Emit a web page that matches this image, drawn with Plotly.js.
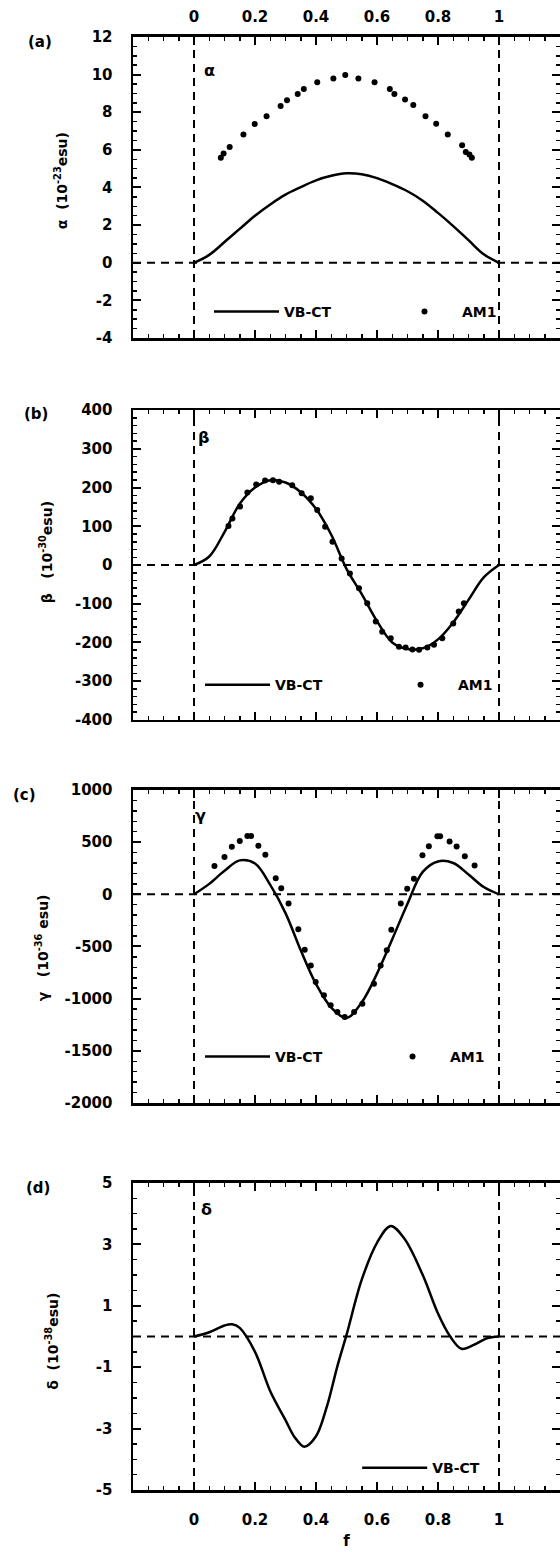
<!DOCTYPE html>
<html><head><meta charset="utf-8">
<script src="https://cdn.plot.ly/plotly-3.0.1.min.js"></script>
<style>body{margin:0;background:#fff}</style>
</head><body><div id="chart" style="width:560px;height:1552px"></div>
<script>
// ---- data ----
const fGrid = [0,0.05,0.1,0.15,0.2,0.25,0.3,0.35,0.4,0.45,0.5,0.55,0.6,0.65,0.7,0.75,0.8,0.85,0.9,0.95,1];
const alphaVB = [0,0.42,1.1,1.8,2.5,3.1,3.62,4.02,4.38,4.62,4.75,4.7,4.5,4.18,3.8,3.3,2.65,1.95,1.2,0.45,0];
const alphaAM1F = [0.088,0.097,0.117,0.162,0.199,0.238,0.284,0.305,0.340,0.360,0.404,0.457,0.496,0.539,0.592,0.642,0.657,0.692,0.719,0.759,0.794,0.832,0.879,0.891,0.903,0.911];
const alphaAM1 = [5.58,5.8,6.15,6.82,7.37,7.78,8.33,8.64,8.97,9.24,9.59,9.79,9.98,9.79,9.59,9.24,8.97,8.68,8.38,7.78,7.39,6.82,6.24,5.88,5.75,5.58];

const betaVB = [0,22,85,158,200,219,213,188,145,78,-10,-75,-145,-200,-217,-215,-192,-148,-90,-32,0];
const betaAM1F = [0.113,0.126,0.151,0.175,0.204,0.233,0.259,0.279,0.322,0.353,0.383,0.404,0.430,0.454,0.484,0.511,0.541,0.568,0.596,0.617,0.645,0.672,0.694,0.716,0.738,0.765,0.787,0.814,0.850,0.868,0.885];
const betaAM1 = [101,120,151,187,208,218,219,215,206,185,172,142,99,60,17,-22,-60,-99,-146,-172,-189,-211,-213,-218,-219,-213,-206,-189,-151,-120,-99];

const gammaVB = [0,100,225,325,295,90,-180,-537,-860,-1085,-1185,-1035,-760,-430,-90,215,315,300,190,70,0];
const gammaAM1F = [0.067,0.100,0.124,0.150,0.175,0.187,0.211,0.234,0.268,0.286,0.310,0.342,0.363,0.383,0.399,0.426,0.448,0.470,0.494,0.525,0.552,0.590,0.612,0.632,0.647,0.678,0.699,0.721,0.749,0.770,0.798,0.807,0.838,0.861,0.888,0.920];
const gammaAM1 = [272,358,455,510,560,560,466,378,155,58,-88,-335,-531,-681,-840,-968,-1064,-1128,-1176,-1128,-1048,-856,-681,-537,-339,-89,54,150,374,460,556,556,506,458,366,277];

const deltaF = [0,0.05,0.1,0.125,0.15,0.2,0.25,0.3,0.33,0.362,0.4,0.435,0.47,0.5,0.55,0.6,0.645,0.69,0.75,0.8,0.84,0.877,0.92,0.96,1];
const deltaVB = [0,0.14,0.36,0.4,0.28,-0.5,-1.78,-2.72,-3.28,-3.59,-3.25,-2.3,-0.97,0.05,1.85,3.05,3.6,3.18,2.0,0.75,0.0,-0.4,-0.26,-0.06,0];

const xTickVals = [0,0.2,0.4,0.6,0.8,1];
const xTickText = ['0','0.2','0.4','0.6','0.8','1'];
const yTickVals = [[-4,-2,0,2,4,6,8,10,12],[-400,-300,-200,-100,0,100,200,300,400],[-2000,-1500,-1000,-500,0,500,1000],[-5,-3,-1,1,3,5]];
const yTickText = [['-4','-2','0','2','4','6','8','10','12'],['-400','-300','-200','-100','0','100','200','300','400'],['-2000','-1500','-1000','-500','0','500','1000'],['-5','-3','-1','1','3','5']];
const refF = [0,1];
const panelLabels = ['(a)','(b)','(c)','(d)'];
const greek = ['α','β','γ','δ'];
const yTitles = ['α  (10<sup>-23</sup>esu)','β   (10<sup>-30</sup>esu)','γ   (10<sup>-36</sup> esu)','δ  (10<sup>-38</sup>esu)'];
const yRanges = [[-4,12],[-400,400],[-2000,1000],[-5,5]];
const yMinor = [0.5,20,100,0.5];
const names = ['VB-CT','AM1'];

// ---- layout helpers ----
const FONT = 'DejaVu Sans, Liberation Sans, sans-serif';
const F = (size)=>({family:FONT, size:size, color:'#000', weight:'bold'});
const domains = [[0.7822,0.9762],[0.5361,0.7358],[0.2893,0.4910],[0.0399,0.2378]];
const lineCol = '#000';

function xax(k){
  const a = {
    anchor: 'y'+(k===1?'':k), domain:[0,1], range:[-0.2,1.2],
    showgrid:false, zeroline:false, showline:true, linewidth:2.5, linecolor:lineCol, mirror:'ticks',
    ticks:'inside', ticklen:8, tickwidth:2, tickcolor:lineCol,
    tickmode:'array', tickvals:xTickVals, ticktext:xTickText, showticklabels:false,
    tickfont:F(15),
    minor:{tickmode:'linear', tick0:0, dtick:0.05, ticks:'inside', ticklen:4, tickwidth:1.5, tickcolor:lineCol}
  };
  if(k===1){ a.side='top'; a.showticklabels=true; a.ticklabelstandoff=6; }
  if(k===4){ a.showticklabels=true; a.ticklabelstandoff=14;
    a.title={text:'f', font:F(15), standoff:8}; }
  return a;
}
function yax(k){
  const i=k-1;
  return {
    anchor: 'x'+(k===1?'':k), domain:domains[i], range:yRanges[i],
    showgrid:false, zeroline:false, showline:true, linewidth:2.5, linecolor:lineCol, mirror:'ticks',
    ticks:'inside', ticklen:8, tickwidth:2, tickcolor:lineCol,
    tickmode:'array', tickvals:yTickVals[i], ticktext:yTickText[i],
    tickfont:F(15), ticklabelstandoff:15,
    minor:{tickmode:'linear', tick0:yRanges[i][0], dtick:yMinor[i], ticks:'inside', ticklen:4, tickwidth:1.5, tickcolor:lineCol}
  };
}

const lineStyle = {color:'#000', width:2.5, shape:'spline', smoothing:1};
const dotStyle = {color:'#000', size:6, symbol:'circle'};
const vb = [alphaVB, betaVB, gammaVB];
const amF = [alphaAM1F, betaAM1F, gammaAM1F];
const am = [alphaAM1, betaAM1, gammaAM1];
const traces = [];
for(let i=0;i<3;i++){
  const s = i===0?'':String(i+1);
  traces.push({x:fGrid, y:vb[i], xaxis:'x'+s, yaxis:'y'+s, mode:'lines', line:lineStyle, name:names[0], legend:'legend'+s});
  traces.push({x:amF[i], y:am[i], xaxis:'x'+s, yaxis:'y'+s, mode:'markers', marker:dotStyle, name:names[1], legend:'legend'+s});
}
traces.push({x:deltaF, y:deltaVB, xaxis:'x4', yaxis:'y4', mode:'lines', line:lineStyle, name:names[0], legend:'legend4'});

const shapes = [];
for(let k=1;k<=4;k++){
  const s = k===1?'':String(k);
  refF.forEach(v=>shapes.push({type:'line', xref:'x'+s, yref:'y'+s+' domain', x0:v, x1:v, y0:0, y1:1, line:{color:'#000', width:2, dash:'8px,6px'}}));
  shapes.push({type:'line', xref:'x'+s+' domain', yref:'y'+s, x0:0, x1:1, y0:0, y1:0, line:{color:'#000', width:2, dash:'8px,6px'}});
}

const annotations = [];
const labelPos = [[-0.218,0.973],[-0.227,0.733],[-0.253,0.488],[-0.222,0.2345]];
const greekPos = [[0.18,0.89],[0.164,0.913],[0.157,0.917],[0.173,0.915]];
const titlePos = [[-0.168,0.8834],[-0.203,0.6443],[-0.213,0.389],[-0.19,0.136]];
const ctr = {showarrow:false, xanchor:'center', yanchor:'middle'};
for(let i=0;i<4;i++){
  const s = i===0?'':String(i+1);
  annotations.push(Object.assign({text:panelLabels[i], xref:'paper', yref:'paper', x:labelPos[i][0], y:labelPos[i][1], font:F(15)}, ctr));
  annotations.push(Object.assign({text:greek[i], xref:'x'+s+' domain', yref:'y'+s+' domain', x:greekPos[i][0], y:greekPos[i][1], font:F(16)}, ctr));
  annotations.push(Object.assign({text:yTitles[i], xref:'paper', yref:'paper', x:titlePos[i][0], y:titlePos[i][1], textangle:-90, font:F(14)}, ctr));
}

function leg(x,y,ew){
  return {x:x, y:y, xref:'paper', yref:'paper', xanchor:'left', yanchor:'middle', orientation:'h',
    bgcolor:'rgba(0,0,0,0)', borderwidth:0, font:F(14),
    itemwidth:65, entrywidth:ew, entrywidthmode:'pixels', traceorder:'normal', itemclick:false};
}

const layout = {
  width:560, height:1552, margin:{l:133, r:0, t:0, b:0, autoexpand:false},
  paper_bgcolor:'#fff', plot_bgcolor:'#fff', showlegend:true,
  font:F(14),
  xaxis:xax(1), xaxis2:xax(2), xaxis3:xax(3), xaxis4:xax(4),
  yaxis:yax(1), yaxis2:yax(2), yaxis3:yax(3), yaxis4:yax(4),
  legend:leg(0.178,0.799,98), legend2:leg(0.157,0.5586,103), legend3:leg(0.157,0.319,95), legend4:leg(0.525,0.054,80),
  shapes:shapes, annotations:annotations
};
Plotly.newPlot('chart', traces, layout, {staticPlot:true});
</script></body></html>
